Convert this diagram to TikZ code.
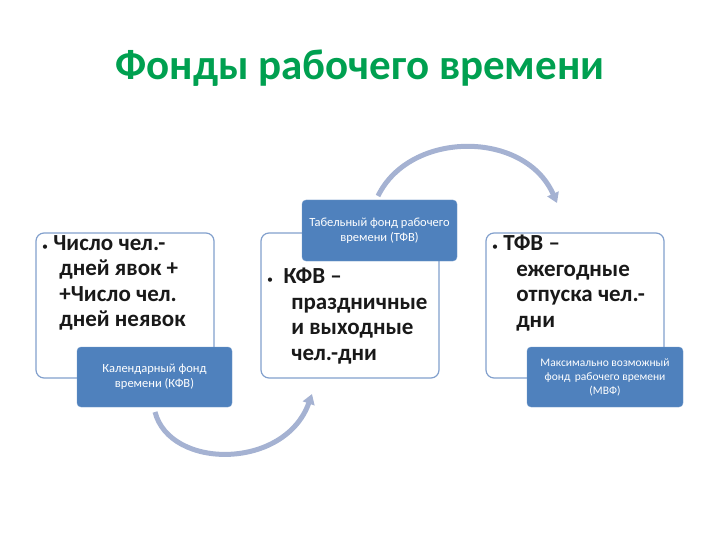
\documentclass[tikz,border=0pt]{standalone}
\usepackage{fontspec}
\setmainfont{Carlito}
\usetikzlibrary{arrows.meta}
\definecolor{ttl}{RGB}{0,160,80}
\definecolor{bdr}{RGB}{130,160,205}
\definecolor{fillb}{RGB}{79,129,189}
\definecolor{arc}{RGB}{165,178,210}
\definecolor{txt}{RGB}{25,25,25}
\begin{document}
\begin{tikzpicture}[x=1pt,y=-1pt,
  bigbox/.style={draw=bdr,line width=1.2pt,fill=white,rounded corners=8pt},
  bluebox/.style={fill=fillb,draw=fillb!80!white,rounded corners=4pt,text=white,font=\fontsize{12.5}{15}\selectfont,align=center},
  btxt/.style={anchor=north west,text=txt,font=\fontsize{23}{25.5}\selectfont\bfseries,align=left,inner sep=0pt},
  arcline/.style={draw=arc,line width=5pt,-{Triangle[length=10pt,width=12pt]}}]
\useasboundingbox (0,0) rectangle (720,540);
\node[text=ttl,font=\fontsize{43}{46}\selectfont\bfseries] (title) at (360,68) {Фонды рабочего времени};
% arcs
\coordinate (a1s) at (155,412);
\coordinate (a1e) at (312,394);
\draw[arcline] (a1s) .. controls (170,470) and (285,470) .. (a1e);
\coordinate (a2s) at (378,196);
\coordinate (a2e) at (557,203);
\draw[arcline] (a2s) .. controls (410,130) and (525,130) .. (a2e);
% boxes
\draw[bigbox] (36,233) rectangle (214,378) coordinate (bl);
\draw[bigbox] (261,233) rectangle (439,378) coordinate (bm);
\draw[bigbox] (486,233) rectangle (664,378) coordinate (br);
\node[bluebox,minimum width=155pt,minimum height=60pt] (kfv) at (154.5,377) {Календарный фонд\\времени (КФВ)};
\node[bluebox,minimum width=155pt,minimum height=61pt] (tfv) at (379.5,230.5) {Табельный фонд рабочего\\времени (ТФВ)};
\node[bluebox,minimum width=156pt,minimum height=60pt,font=\fontsize{11.5}{14}\selectfont] (mvf) at (605,377) {Максимально возможный\\фонд\, рабочего времени\\(МВФ)};
\node[btxt] (t1) at (42,235) {{\normalfont\large•}\ Число чел.-\\\hspace{0.75em}дней явок +\\\hspace{0.75em}+Число чел.\\\hspace{0.75em}дней неявок};
\node[btxt] (t2) at (267,268) {{\normalfont\large•}\ \ КФВ –\\\hspace{1.05em}праздничные\\\hspace{1.05em}и выходные\\\hspace{1.05em}чел.-дни};
\node[btxt] (t3) at (492,235) {{\normalfont\large•}\ ТФВ –\\\hspace{1.05em}ежегодные\\\hspace{1.05em}отпуска чел.-\\\hspace{1.05em}дни};
\end{tikzpicture}
\end{document}
